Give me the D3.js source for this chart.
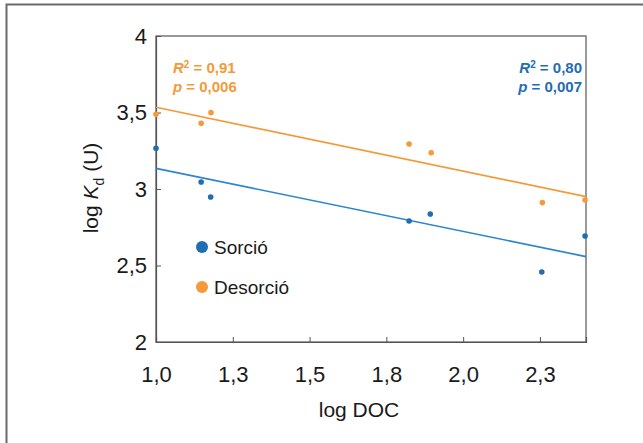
<!DOCTYPE html>
<html>
<head>
<meta charset="utf-8">
<script src="https://cdn.jsdelivr.net/npm/d3@7"></script>
<style>
  body { margin: 0; background: #fff; }
  text { font-family: "Liberation Sans", Arial, sans-serif; }
</style>
</head>
<body>
<div id="chart"></div>
<script>
// ==== Data ====
const sorcioX = [1.0, 1.147, 1.178, 1.824, 1.893, 2.256, 2.397];
const sorcioY = [3.266, 3.046, 2.948, 2.791, 2.837, 2.458, 2.693];
const desorcioX = [1.0, 1.147, 1.179, 1.824, 1.896, 2.258, 2.397];
const desorcioY = [3.488, 3.429, 3.499, 3.294, 3.237, 2.911, 2.928];
// fitted lines: value at x = 1.0 and at x = 2.4
const fitX = [1.0, 2.4];
const sorcioFit = [3.135, 2.558];
const desorcioFit = [3.534, 2.95];
const xTicks = [1.0, 1.25, 1.5, 1.75, 2.0, 2.25];
const yTicks = [2, 2.5, 3, 3.5, 4];
const statsDesorcio = ["0,91", "0,006"];
const statsSorcio = ["0,80", "0,007"];

const blue = "#1f6db3", blueLine = "#2b86cf";
const orange = "#f49a3a";

// ==== Setup ====
const W = 643, H = 443;
const margin = { top: 36, right: 57, bottom: 101, left: 156 };
const width = W - margin.left - margin.right;
const height = H - margin.top - margin.bottom;

const root = d3.select("#chart").append("svg")
    .attr("width", W).attr("height", H);

// page frame (left + top)
root.append("path")
    .attr("d", `M6.5,${H} V4.5 H${W}`)
    .attr("fill", "none").attr("stroke", "#6a6a6a").attr("stroke-width", 2);

const svg = root.append("g")
    .attr("transform", `translate(${margin.left},${margin.top})`);

const xScale = d3.scaleLinear().domain([1.0, 2.4]).range([0, width]);
const yScale = d3.scaleLinear().domain([2, 4]).range([height, 0]);

// plot box
svg.append("rect")
    .attr("width", width).attr("height", height)
    .attr("fill", "none").attr("stroke", "#555").attr("stroke-width", 1.2);

const fmt = d => d3.format(".1f")(d).replace(".", ",");
const fmtY = d => (Number.isInteger(d) ? String(d) : String(d).replace(".", ","));

const xAxis = d3.axisBottom(xScale).tickValues(xTicks).tickSize(-5).tickPadding(24).tickFormat(fmt);
const yAxis = d3.axisLeft(yScale).tickValues(yTicks).tickSize(-5).tickPadding(9).tickFormat(fmtY);

const gx = svg.append("g").attr("transform", `translate(0,${height})`).call(xAxis);
const gy = svg.append("g").call(yAxis);
[gx, gy].forEach(g => {
  g.select(".domain").attr("stroke", "#555").attr("stroke-width", 1.2);
  g.selectAll(".tick line").attr("stroke", "#555");
  g.selectAll(".tick text").attr("fill", "#1a1a1a").style("font-size", "22px");
});

// axis titles
svg.append("text")
    .attr("x", width / 2 - 12).attr("y", height + 75)
    .attr("text-anchor", "middle").style("font-size", "21px").attr("fill", "#1a1a1a")
    .text("log DOC");

const yt = svg.append("text")
    .attr("transform", `translate(-58,${height / 2 - 1}) rotate(-90)`)
    .attr("text-anchor", "middle").style("font-size", "21px").attr("fill", "#1a1a1a");
yt.append("tspan").text("log ");
yt.append("tspan").style("font-style", "italic").text("K");
yt.append("tspan").attr("dy", 6).style("font-size", "14px").text("d");
yt.append("tspan").attr("dy", -6).text(" (U)");

// fit lines
const line = d3.line().x(d => xScale(d[0])).y(d => yScale(d[1]));
svg.append("path").datum(d3.zip(fitX, desorcioFit))
    .attr("d", line).attr("stroke", orange).attr("stroke-width", 1.6).attr("fill", "none");
svg.append("path").datum(d3.zip(fitX, sorcioFit))
    .attr("d", line).attr("stroke", blueLine).attr("stroke-width", 1.6).attr("fill", "none");

// points
svg.selectAll(".pd").data(d3.zip(desorcioX, desorcioY)).join("circle")
    .attr("cx", d => xScale(d[0])).attr("cy", d => yScale(d[1]))
    .attr("r", 2.8).attr("fill", orange);
svg.selectAll(".ps").data(d3.zip(sorcioX, sorcioY)).join("circle")
    .attr("cx", d => xScale(d[0])).attr("cy", d => yScale(d[1]))
    .attr("r", 2.8).attr("fill", blue);

// legend
const legend = [["Sorció", blue], ["Desorció", orange]];
legend.forEach((l, i) => {
  const g = svg.append("g").attr("transform", `translate(46,${211 + i * 40})`);
  g.append("circle").attr("r", 6).attr("fill", l[1]);
  g.append("text").attr("x", 12).attr("dy", "0.35em")
      .style("font-size", "19px").attr("fill", "#1a1a1a").text(l[0]);
});

// stats
function stats(x, anchor, color, vals) {
  const t1 = svg.append("text").attr("x", x).attr("y", 37)
      .attr("text-anchor", anchor).attr("fill", color)
      .style("font-size", "15px").style("font-weight", "bold");
  t1.append("tspan").style("font-style", "italic").text("R");
  t1.append("tspan").attr("dy", -5).style("font-size", "10px").text("2");
  t1.append("tspan").attr("dy", 5).text(" = " + vals[0]);
  const t2 = svg.append("text").attr("x", x).attr("y", 56)
      .attr("text-anchor", anchor).attr("fill", color)
      .style("font-size", "15px").style("font-weight", "bold");
  t2.append("tspan").style("font-style", "italic").text("p");
  t2.append("tspan").text(" = " + vals[1]);
}
stats(17, "start", orange, statsDesorcio);
stats(width - 4, "end", blue, statsSorcio);
</script>
</body>
</html>
